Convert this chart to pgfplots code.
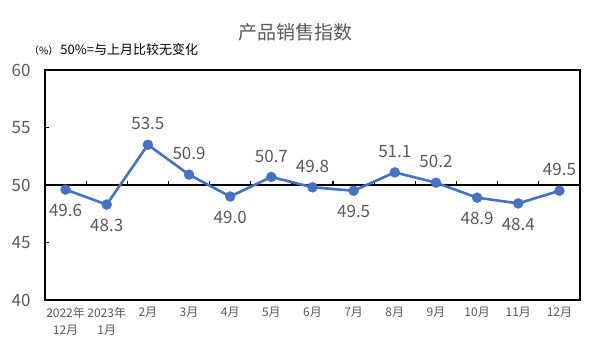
\documentclass[border=0pt]{standalone}
\usepackage{pgfplots}
\pgfplotsset{compat=1.18}
\usepackage{pgfplotstable}
\usepackage{fontspec}
\setmainfont{Noto Sans CJK SC}
\definecolor{lineblue}{HTML}{4472C4}
\definecolor{txt}{HTML}{595959}
\pgfplotstableread{
x y p
0 49.6 -1
1 48.3 -1
2 53.5 1
3 50.9 1
4 49.0 -1
5 50.7 1
6 49.8 1
7 49.5 -1
8 51.1 1
9 50.2 1
10 48.9 -1
11 48.4 -1
12 49.5 1
}\datatable
\begin{document}
\begin{tikzpicture}
\path[use as bounding box] (0pt,0pt) rectangle (591pt,354pt);
\node[text=txt,font=\fontsize{19}{22}\selectfont] at (295pt,322pt) {产品销售指数};
\node[anchor=west,text=black,font=\fontsize{13}{15}\selectfont,inner sep=0pt] at (29pt,304pt) {{\fontsize{10}{12}\selectfont（\%）}\hspace{2pt}50\%=与上月比较无变化};
\begin{axis}[
  at={(45pt,54pt)}, anchor=south west,
  scale only axis, width=535pt, height=230pt,
  xmin=-0.5, xmax=12.5, ymin=40, ymax=60,
  ytick={40,45,...,60},
  xtick={0,...,12},
  xticklabels={{2022年\\12月},{2023年\\1月},2月,3月,4月,5月,6月,7月,8月,9月,10月,11月,12月},
  xticklabel style={align=center, text=txt, font=\fontsize{12}{17}\selectfont, yshift=-4pt},
  yticklabel style={text=txt, font=\fontsize{17}{19}\selectfont, xshift=-11pt},
  /pgf/number format/assume math mode=true,
  axis line style={line width=1.8pt},
  tick pos=left,
  tick align=inside,
  major tick length=4pt,
  every tick/.style={black, line width=1.2pt},
  x tick style={draw=none},
  clip=false,
]
\draw[line width=1.8pt] (axis cs:-0.5,50) -- (axis cs:12.5,50);
\pgfplotsinvokeforeach{0.5,1.5,2.5,3.5,4.5,5.5,6.5,7.5,8.5,9.5,10.5,11.5}{
  \draw[line width=1.2pt] (axis cs:#1,50) -- (axis cs:#1,50.38);
}
\addplot[color=lineblue, line width=2.6pt, mark=*, mark size=5pt,
  mark options={fill=lineblue, draw=lineblue, line width=0.4pt},
  visualization depends on={\thisrow{p} \as \pos},
  nodes near coords,
  point meta=explicit,
  nodes near coords style={anchor=center, yshift=\pos*21pt, text=txt,
     font=\fontsize{17}{19}\selectfont,
     /pgf/number format/.cd, fixed, fixed zerofill, precision=1, assume math mode=true},
] table[x=x, y=y, meta=y] {\datatable};
\end{axis}
\end{tikzpicture}
\end{document}
